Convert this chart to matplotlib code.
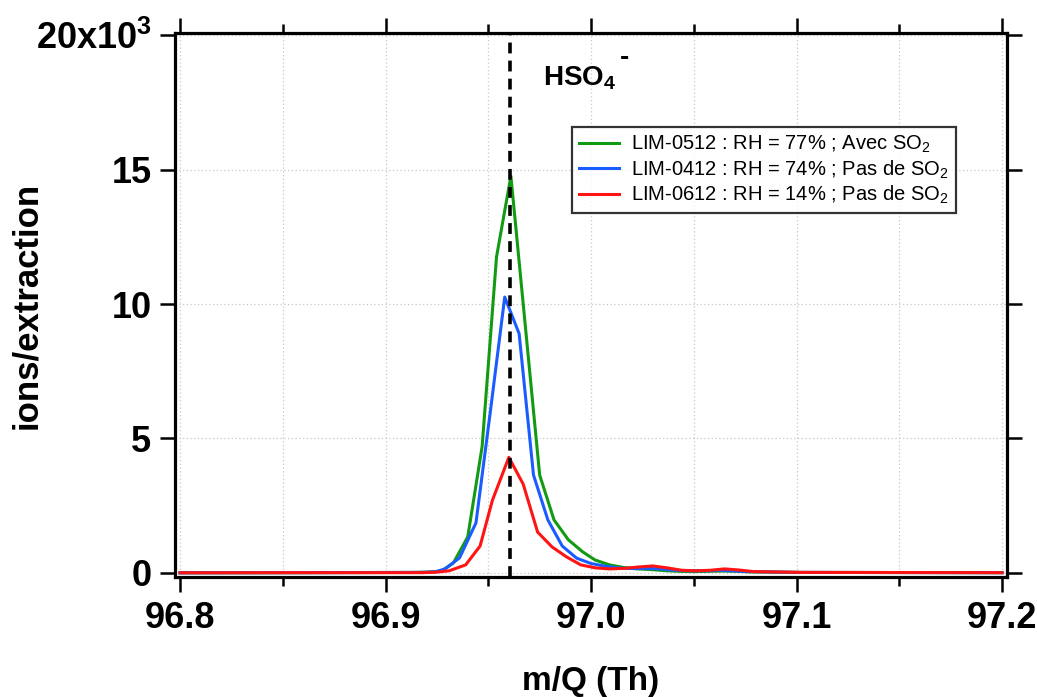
import matplotlib
matplotlib.use("Agg")
import matplotlib.pyplot as plt
from matplotlib.ticker import MultipleLocator, FixedLocator

plt.rcParams["font.family"] = ["Liberation Sans", "DejaVu Sans"]
plt.rcParams["mathtext.fontset"] = "custom"
plt.rcParams["mathtext.rm"] = "Liberation Sans"
plt.rcParams["mathtext.bf"] = "Liberation Sans:bold"

# Spectres (m/Q en Th, ions/extraction)
mq_0512 = [96.800, 96.858, 96.913, 96.920, 96.927, 96.933, 96.940, 96.947, 96.954, 96.961,
           96.968, 96.975, 96.982, 96.989, 96.996, 97.002, 97.009, 97.016, 97.023, 97.030,
           97.037, 97.043, 97.050, 97.057, 97.064, 97.071, 97.077, 97.102, 97.200]
ions_0512 = [5, 10, 20, 30, 60, 370, 1340, 4700, 11750, 14760,
             9200, 3640, 1970, 1230, 780, 480, 300, 200, 150, 120,
             80, 60, 50, 60, 70, 60, 40, 20, 10]

mq_0412 = [96.800, 96.858, 96.917, 96.924, 96.929, 96.936, 96.944, 96.951, 96.958, 96.965,
           96.972, 96.979, 96.986, 96.993, 97.000, 97.007, 97.014, 97.021, 97.028, 97.035,
           97.041, 97.048, 97.056, 97.062, 97.069, 97.076, 97.102, 97.200]
ions_0412 = [5, 10, 20, 40, 150, 560, 1860, 6000, 10260, 8900,
             3640, 1970, 1000, 550, 350, 250, 180, 160, 170, 140,
             100, 80, 80, 100, 80, 50, 20, 10]

mq_0612 = [96.800, 96.858, 96.918, 96.925, 96.931, 96.939, 96.946, 96.952, 96.960, 96.967,
           96.974, 96.981, 96.988, 96.995, 97.002, 97.009, 97.016, 97.023, 97.030, 97.037,
           97.044, 97.051, 97.058, 97.065, 97.072, 97.079, 97.102, 97.200]
ions_0612 = [5, 10, 10, 30, 80, 300, 1000, 2700, 4300, 3300,
             1520, 970, 600, 300, 190, 150, 170, 220, 260, 190,
             100, 80, 100, 150, 110, 50, 20, 10]

labels = ["LIM-0512 : RH = 77% ; Avec SO$_2$",
          "LIM-0412 : RH = 74% ; Pas de SO$_2$",
          "LIM-0612 : RH = 14% ; Pas de SO$_2$"]
couleurs = ["#139a13", "#1a5cff", "#ff1414"]

mq_hso4 = 96.9605
yticks = [0, 5000, 10000, 15000, 20000]
ytick_labels = ["0", "5", "10", "15", r"20x10$^{\mathbf{3}}$"]

fig = plt.figure(figsize=(10.37, 6.97), dpi=100)
ax = fig.add_axes([0.1688, 0.1722, 0.8023, 0.7805])

for x, y, lab, c in zip([mq_0512, mq_0412, mq_0612], [ions_0512, ions_0412, ions_0612], labels, couleurs):
    ax.plot(x, y, color=c, lw=2.2, label=lab)

ax.axvline(mq_hso4, ymin=0.0, ymax=1.0, color="black", lw=2.6, dashes=(3.0, 2.0))

ax.set_xlim(96.8 - 5 / 2055, 97.2 + 5 / 2055)
ax.set_ylim(-150, 20080)

ax.xaxis.set_major_locator(MultipleLocator(0.1))
ax.xaxis.set_minor_locator(MultipleLocator(0.05))
ax.xaxis.set_major_formatter(plt.FuncFormatter(lambda v, p: f"{v:.1f}"))
ax.yaxis.set_major_locator(FixedLocator(yticks))
ax.set_yticklabels(ytick_labels)

ax.grid(True, which="both", axis="x", color="#c8c8c8", ls=(0, (1, 2)), lw=0.9)
ax.grid(True, which="major", axis="y", color="#c8c8c8", ls=(0, (1, 2)), lw=0.9)

for s in ax.spines.values():
    s.set_linewidth(2.3)
ax.tick_params(which="major", direction="out", length=11, width=1.8, top=True, right=True,
               labelsize=26, pad=6)
ax.tick_params(which="minor", direction="out", length=6.5, width=1.8, top=True)
for t in ax.get_xticklabels() + ax.get_yticklabels():
    t.set_fontweight("bold")

ax.set_xlabel("m/Q (Th)", fontsize=24, fontweight="bold", va="top")
ax.xaxis.set_label_coords(0.5, -0.163)
ax.set_ylabel("ions/extraction", fontsize=25, fontweight="bold")
ax.yaxis.set_label_coords(-0.158, 0.5)

ax.text(96.9765, 18150, r"HSO$_\mathbf{4}$", fontsize=20, fontweight="bold", ha="left", va="baseline")
ax.text(97.0165, 19150, "-", fontsize=20, fontweight="bold", ha="center", va="center")

leg = ax.legend(loc="upper left", bbox_to_anchor=(572 / 1037, 1 - 127 / 697), bbox_transform=fig.transFigure,
                fontsize=14.5, frameon=True, fancybox=False, handlelength=2.0, handletextpad=0.6,
                borderpad=0.35, labelspacing=0.15, borderaxespad=0)
leg.get_frame().set_edgecolor("black")
leg.get_frame().set_linewidth(1.6)

plt.savefig("out.png", dpi=100)
